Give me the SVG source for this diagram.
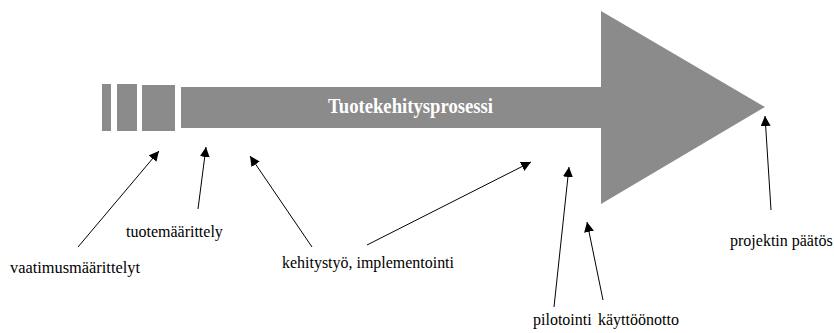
<svg xmlns="http://www.w3.org/2000/svg" width="834" height="333" viewBox="0 0 834 333">
<style>
.shape{fill:#8b8b8b}
.lbl{font-family:"Liberation Serif","Times New Roman",serif;font-size:16px;fill:#000}
.title{font-family:"Liberation Serif","Times New Roman",serif;font-size:20px;font-weight:bold;fill:#fff}
.conn{stroke:#000;stroke-width:1;fill:none;marker-end:url(#ah)}
</style>
<defs>
<marker id="ah" viewBox="0 0 10 10" refX="10" refY="5" markerWidth="10" markerHeight="10" markerUnits="userSpaceOnUse" orient="auto">
<path d="M0,0 L10,5 L0,10 Z" fill="#000"/>
</marker>
</defs>
<g id="process-arrow">
<rect class="shape" x="102" y="84" width="9" height="47"/>
<rect class="shape" x="117" y="84" width="20" height="47"/>
<rect class="shape" x="142" y="85" width="33" height="46"/>
<path class="shape" d="M181,87 L601,87 L601,11 L765,107 L601,204 L601,128 L181,128 Z"/>
<text class="title" x="328" y="113" textLength="165" lengthAdjust="spacingAndGlyphs">Tuotekehitysprosessi</text>
</g>
<g id="connectors">
<line class="conn" x1="78" y1="247" x2="159" y2="151"/>
<line class="conn" x1="198" y1="209" x2="206" y2="147"/>
<line class="conn" x1="312" y1="247" x2="250" y2="156"/>
<line class="conn" x1="367" y1="245" x2="531" y2="162"/>
<line class="conn" x1="554" y1="307" x2="569" y2="167"/>
<line class="conn" x1="603" y1="300" x2="587" y2="222"/>
<line class="conn" x1="771" y1="210" x2="765" y2="116"/>
</g>
<g id="label-vaatimus"><text class="lbl" x="10" y="273" textLength="130" lengthAdjust="spacingAndGlyphs">vaatimusmäärittelyt</text></g>
<g id="label-tuote"><text class="lbl" x="126" y="237">tuotemäärittely</text></g>
<g id="label-kehitys"><text class="lbl" x="282" y="268" textLength="172" lengthAdjust="spacingAndGlyphs">kehitystyö, implementointi</text></g>
<g id="label-pilotointi"><text class="lbl" x="533" y="325">pilotointi</text></g>
<g id="label-kaytto"><text class="lbl" x="598" y="325">käyttöönotto</text></g>
<g id="label-paatos"><text class="lbl" x="730" y="246">projektin päätös</text></g>
</svg>
